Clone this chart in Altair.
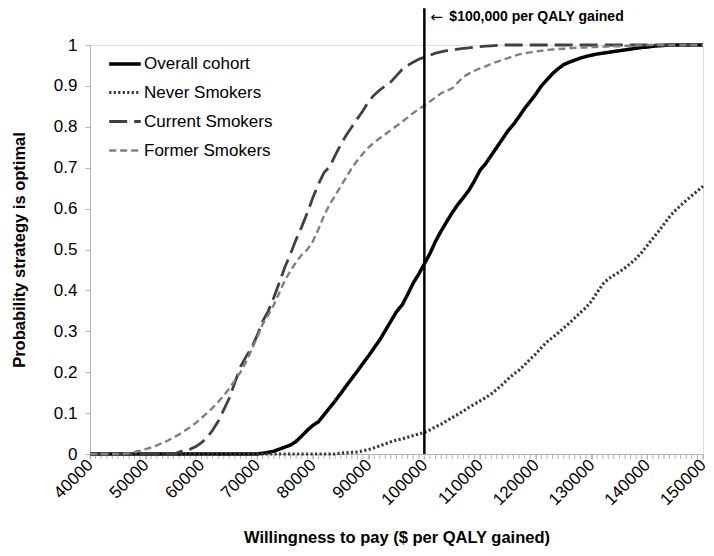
import altair as alt
import pandas as pd

wtp = list(range(40000, 151000, 1000))
x_labels = list(range(40000, 151000, 10000))
y_labels = [round(i * 0.1, 1) for i in range(11)]

overall = [0]*31 + [
    0.002, 0.004, 0.007, 0.012, 0.017, 0.022, 0.031, 0.044, 0.058, 0.070,   # 71-80
    0.079, 0.096, 0.113, 0.130, 0.148, 0.167, 0.185, 0.203, 0.222, 0.240,   # 81-90
    0.260, 0.279, 0.302, 0.325, 0.348, 0.364, 0.390, 0.418, 0.440, 0.465,   # 91-100
    0.490, 0.520, 0.545, 0.568, 0.590, 0.610, 0.627, 0.645, 0.668, 0.694,   # 101-110
    0.710, 0.730, 0.750, 0.770, 0.790, 0.806, 0.825, 0.845, 0.862, 0.880,   # 111-120
    0.900, 0.915, 0.930, 0.942, 0.952, 0.958, 0.963, 0.968, 0.972, 0.975,   # 121-130
    0.978, 0.980, 0.982, 0.984, 0.986, 0.988, 0.990, 0.992, 0.994, 0.995,   # 131-140
    0.997, 0.998, 0.999, 1, 1, 1, 1, 1, 1, 1]                               # 141-150

never = [0]*45 + [
    0.002, 0.003, 0.004, 0.005, 0.008, 0.011,                               # 85-90
    0.015, 0.020, 0.025, 0.030, 0.034, 0.037, 0.041, 0.045, 0.049, 0.053,   # 91-100
    0.059, 0.066, 0.073, 0.081, 0.089, 0.097, 0.105, 0.114, 0.122, 0.130,   # 101-110
    0.138, 0.147, 0.158, 0.170, 0.183, 0.195, 0.205, 0.218, 0.232, 0.245,   # 111-120
    0.260, 0.274, 0.285, 0.296, 0.308, 0.320, 0.333, 0.346, 0.358, 0.374,   # 121-130
    0.395, 0.415, 0.428, 0.437, 0.445, 0.455, 0.466, 0.478, 0.493, 0.510,   # 131-140
    0.527, 0.544, 0.562, 0.580, 0.595, 0.608, 0.620, 0.632, 0.643, 0.655]   # 141-150

current = [0]*16 + [
    0.005, 0.010, 0.012, 0.018, 0.028,                                      # 56-60
    0.040, 0.058, 0.080, 0.108, 0.137, 0.175, 0.213, 0.238, 0.260, 0.290,   # 61-70
    0.325, 0.350, 0.383, 0.420, 0.458, 0.490, 0.525, 0.556, 0.590, 0.627,   # 71-80
    0.660, 0.688, 0.702, 0.730, 0.757, 0.780, 0.800, 0.820, 0.840, 0.862,   # 81-90
    0.878, 0.890, 0.900, 0.910, 0.925, 0.940, 0.950, 0.958, 0.965, 0.970,   # 91-100
    0.975, 0.980, 0.983, 0.986, 0.988, 0.990, 0.992, 0.993, 0.995, 0.996,   # 101-110
    0.997, 0.998, 0.999] + [1]*37                                           # 111-150

former = [0]*7 + [
    0.002, 0.005, 0.008, 0.012,                                             # 47-50
    0.016, 0.021, 0.027, 0.033, 0.040, 0.048, 0.057, 0.066, 0.076, 0.088,   # 51-60
    0.100, 0.113, 0.127, 0.143, 0.160, 0.180, 0.200, 0.225, 0.255, 0.285,   # 61-70
    0.318, 0.340, 0.365, 0.395, 0.425, 0.448, 0.470, 0.487, 0.500, 0.520,   # 71-80
    0.550, 0.583, 0.610, 0.632, 0.655, 0.677, 0.700, 0.718, 0.735, 0.750,   # 81-90
    0.762, 0.772, 0.782, 0.792, 0.802, 0.812, 0.823, 0.834, 0.843, 0.852,   # 91-100
    0.862, 0.872, 0.882, 0.888, 0.894, 0.908, 0.922, 0.930, 0.937, 0.943,   # 101-110
    0.948, 0.954, 0.959, 0.964, 0.968, 0.973, 0.977, 0.980, 0.982, 0.984,   # 111-120
    0.986, 0.988, 0.989, 0.990, 0.991, 0.992, 0.993, 0.994, 0.994, 0.995,   # 121-130
    0.995, 0.996, 0.996, 0.997, 0.997, 0.998, 0.998, 0.999, 0.999] + [1]*11  # 131-150

series_names = ["Overall cohort", "Never Smokers", "Current Smokers", "Former Smokers"]
series_colors = ["#000000", "#3a3a3a", "#404040", "#808080"]
series_dash = [[1, 0], [2.2, 2.3], [18, 7], [7, 4]]
series_width = [3.5, 2.4, 3, 3]

threshold = [100000]
threshold_arrow = ["\u2190"]
threshold_label = ["$100,000 per QALY gained"]

rows = []
for name, vals in zip(series_names, [overall, never, current, former]):
    for x, v in zip(wtp, vals):
        rows.append({"wtp": x, "prob": v, "series": name})
df = pd.DataFrame(rows)
ticks_df = pd.DataFrame({"wtp": wtp})

FONT = "Liberation Sans"
AXIS_GRAY = "#b4b4b4"

x_scale = alt.Scale(domain=[40000, 150000], nice=False, zero=False)
y_scale = alt.Scale(domain=[0, 1], nice=False)

x_axis = alt.Axis(
    values=x_labels, format="d",
    labelOverlap=False, labelAngle=-45, labelAlign="right", labelBaseline="middle",
    labelFontSize=17, labelFont=FONT, labelColor="#000", labelPadding=3,
    tickColor=AXIS_GRAY, tickSize=5, domainColor=AXIS_GRAY, grid=False,
    title="Willingness to pay ($ per QALY gained)", titleFont=FONT, titleFontSize=16.5,
    titleFontWeight="bold", titleColor="#000", titlePadding=22,
)
y_axis = alt.Axis(
    values=y_labels, format=".1~f",
    labelFontSize=17, labelFont=FONT, labelColor="#000", labelPadding=8,
    tickColor=AXIS_GRAY, tickSize=5, domainColor=AXIS_GRAY, grid=False,
    title="Probability strategy is optimal", titleFont=FONT, titleFontSize=16.5,
    titleFontWeight="bold", titleColor="#000", titlePadding=26,
)

legend = alt.Legend(orient="none", legendX=17, legendY=1, title=None,
                    symbolType="stroke", symbolSize=1000, symbolStrokeWidth=3,
                    labelFont=FONT, labelFontSize=17, labelColor="#000",
                    rowPadding=3, labelOffset=1, symbolOffset=0)

lines = alt.Chart(df).mark_line(strokeCap="butt").encode(
    x=alt.X("wtp:Q", scale=x_scale, axis=x_axis),
    y=alt.Y("prob:Q", scale=y_scale, axis=y_axis),
    color=alt.Color("series:N", scale=alt.Scale(domain=series_names, range=series_colors),
                    legend=legend),
    strokeDash=alt.StrokeDash("series:N", scale=alt.Scale(domain=series_names, range=series_dash),
                              legend=legend),
    strokeWidth=alt.StrokeWidth("series:N", scale=alt.Scale(domain=series_names, range=series_width),
                                legend=None),
    detail="series:N",
)

minor_ticks = alt.Chart(ticks_df).mark_rule(color=AXIS_GRAY, strokeWidth=1).encode(
    x=alt.X("wtp:Q", scale=x_scale), y=alt.value(409), y2=alt.value(414))

thr_df = pd.DataFrame({"x": threshold, "y0": [0], "y1": [1.09],
                       "arrow": threshold_arrow, "label": threshold_label})
rule = alt.Chart(thr_df).mark_rule(color="#000", strokeWidth=2.5).encode(
    x=alt.X("x:Q", scale=x_scale), y=alt.Y("y0:Q", scale=y_scale), y2="y1:Q")
arrow = alt.Chart(thr_df).mark_text(align="left", baseline="middle", dx=6, dy=9,
                                    font="DejaVu Sans", fontSize=15, color="#000").encode(
    x=alt.X("x:Q", scale=x_scale), y=alt.Y("y1:Q", scale=y_scale), text="arrow:N")
text = alt.Chart(thr_df).mark_text(align="left", baseline="middle", dx=25, dy=9,
                                   font=FONT, fontSize=14, fontWeight="bold", color="#000").encode(
    x=alt.X("x:Q", scale=x_scale), y=alt.Y("y1:Q", scale=y_scale), text="label:N")

chart = alt.layer(minor_ticks, lines, rule, arrow, text).properties(
    width=613, height=409,
    autosize=alt.AutoSizeParams(type="none"),
    padding={"left": 82, "top": 37, "right": 3, "bottom": 94},
).configure_view(stroke=None).configure(background="#ffffff")

chart.save("out.html", embed_options={"renderer": "svg", "actions": False})
